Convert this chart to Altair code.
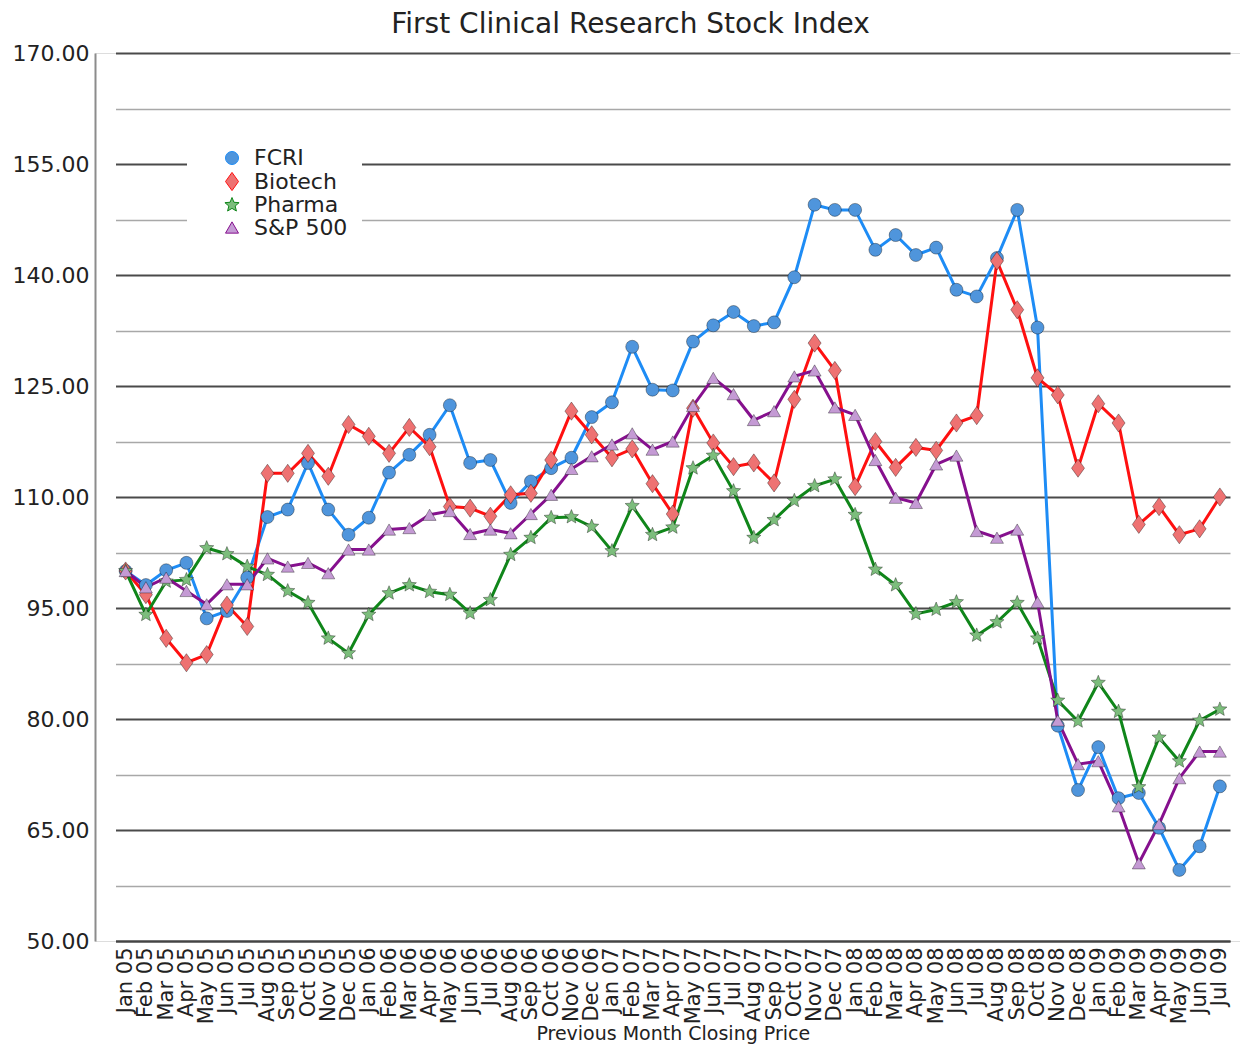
import altair as alt
import pandas as pd

months = ["Jan 05", "Feb 05", "Mar 05", "Apr 05", "May 05", "Jun 05", "Jul 05", "Aug 05", "Sep 05", "Oct 05",
          "Nov 05", "Dec 05", "Jan 06", "Feb 06", "Mar 06", "Apr 06", "May 06", "Jun 06", "Jul 06", "Aug 06",
          "Sep 06", "Oct 06", "Nov 06", "Dec 06", "Jan 07", "Feb 07", "Mar 07", "Apr 07", "May 07", "Jun 07",
          "Jul 07", "Aug 07", "Sep 07", "Oct 07", "Nov 07", "Dec 07", "Jan 08", "Feb 08", "Mar 08", "Apr 08",
          "May 08", "Jun 08", "Jul 08", "Aug 08", "Sep 08", "Oct 08", "Nov 08", "Dec 08", "Jan 09", "Feb 09",
          "Mar 09", "Apr 09", "May 09", "Jun 09", "Jul 09"]

fcri = [100.0, 98.1, 100.1, 101.1, 93.6, 94.6, 99.1, 107.3, 108.3, 114.6,
        108.3, 104.9, 107.2, 113.3, 115.7, 118.4, 122.4, 114.6, 115.0, 109.2,
        112.1, 113.9, 115.3, 120.8, 122.8, 130.3, 124.5, 124.4, 131.0, 133.2,
        135.0, 133.1, 133.6, 139.7, 149.5, 148.8, 148.8, 143.4, 145.4, 142.7,
        143.7, 138.0, 137.1, 142.3, 148.8, 132.9, 79.1, 70.4, 76.2, 69.3,
        70.0, 65.3, 59.6, 62.8, 70.9]

biotech = [100.0, 96.8, 90.9, 87.6, 88.7, 95.4, 92.5, 113.2, 113.2, 115.9,
           112.8, 119.8, 118.2, 115.9, 119.4, 116.8, 108.7, 108.5, 107.4, 110.3,
           110.5, 115.0, 121.6, 118.4, 115.3, 116.5, 111.8, 107.7, 122.0, 117.3,
           114.1, 114.6, 111.9, 123.2, 130.8, 127.1, 111.4, 117.5, 114.0, 116.7,
           116.3, 120.0, 121.0, 141.9, 135.3, 126.1, 123.8, 113.9, 122.6, 120.0,
           106.3, 108.7, 104.9, 105.7, 110.0]

pharma = [100.0, 94.1, 98.6, 98.8, 103.1, 102.3, 100.6, 99.5, 97.3, 95.7,
          90.9, 88.9, 94.1, 97.0, 98.1, 97.2, 96.8, 94.3, 96.1, 102.2,
          104.5, 107.2, 107.3, 106.0, 102.7, 108.8, 104.9, 105.9, 113.9, 115.6,
          110.8, 104.5, 106.9, 109.5, 111.5, 112.4, 107.6, 100.2, 98.1, 94.2,
          94.8, 95.8, 91.3, 93.1, 95.7, 90.9, 82.5, 79.7, 84.9, 81.0,
          70.8, 77.5, 74.3, 79.8, 81.3]

sp500 = [100.0, 97.8, 99.1, 97.3, 95.5, 98.2, 98.2, 101.7, 100.6, 101.1,
         99.7, 102.9, 102.9, 105.6, 105.8, 107.6, 108.1, 105.0, 105.6, 105.1,
         107.7, 110.3, 113.8, 115.5, 117.1, 118.6, 116.4, 117.5, 122.3, 126.1,
         123.9, 120.4, 121.6, 126.3, 127.1, 122.1, 121.1, 115.0, 109.9, 109.2,
         114.4, 115.6, 105.4, 104.5, 105.6, 95.8, 79.8, 73.9, 74.3, 68.2,
         60.5, 65.8, 72.0, 75.6, 75.6]

series_names = ["FCRI", "Biotech", "Pharma", "S&P 500"]
series_values = [fcri, biotech, pharma, sp500]

line_colors = ["#1e8cf5", "#ff1010", "#10861a", "#86108e"]
marker_fills = ["#4f95dc", "#ee7272", "#7cbd7c", "#c49ad4"]
diamond_path = "M0,-1.4L1,0L0,1.4L-1,0Z"
star_path = ("M0,-1.15L0.3,-0.42L1.09,-0.36L0.49,0.16L0.68,0.93L0,0.52"
             "L-0.68,0.93L-0.49,0.16L-1.09,-0.36L-0.3,-0.42Z")
marker_shapes = ["circle", diamond_path, star_path, "triangle-up"]

y_values = [50 + 7.5 * k for k in range(17)]

rows = []
for name, vals in zip(series_names, series_values):
    for m, v in zip(months, vals):
        rows.append({"month": m, "series": name, "value": v})
df = pd.DataFrame(rows)

FONT = "DejaVu Sans"
major = "datum.value % 15 == 5"

x_enc = alt.X(
    "month:N", sort=months,
    scale=alt.Scale(type="point", range=[20.5, 1135]),
    axis=alt.Axis(labelAngle=-90, labelFont=FONT, labelFontSize=21, labelColor="#222",
                  ticks=False, domainColor="#444", domainWidth=2, labelPadding=6,
                  labelOverlap=False, grid=False,
                  title="Previous Month Closing Price", titleFont=FONT, titleFontSize=19,
                  titleFontWeight="normal", titleColor="#222", titlePadding=1),
)
y_enc = alt.Y(
    "value:Q",
    scale=alt.Scale(domain=[50, 170], nice=False, zero=False),
    axis=alt.Axis(values=y_values,
                  labelExpr=f"{major} ? format(datum.value, '.2f') : ''",
                  labelFont=FONT, labelFontSize=22, labelColor="#222", labelPadding=6,
                  labelOverlap=False, ticks=False,
                  domainColor="#8c8c8c", domainWidth=2,
                  grid=True,
                  gridColor={"condition": {"test": major, "value": "#4a4a4a"}, "value": "#a8a8a8"},
                  gridWidth={"condition": {"test": major, "value": 2}, "value": 1.3},
                  title=None),
)

# one shared legend definition for every channel keyed on "series",
# so Vega-Lite merges them into a single (enabled) legend
leg = alt.Legend(title=None, orient="none", legendX=92, legendY=80, fillColor="white",
                 padding=14, symbolOffset=20, labelOffset=11, labelFont=FONT,
                 labelFontSize=22, labelColor="#222", symbolSize=169, rowPadding=0.5,
                 symbolStrokeWidth=1)

base = alt.Chart(df).encode(x=x_enc, y=y_enc)

lines = base.mark_line(strokeWidth=3).encode(
    stroke=alt.Stroke("series:N", scale=alt.Scale(domain=series_names, range=line_colors), legend=leg)
)

points = base.mark_point(filled=True, size=169, strokeWidth=1, opacity=1,
                         stroke="black", strokeOpacity=0.35).encode(
    shape=alt.Shape("series:N", scale=alt.Scale(domain=series_names, range=marker_shapes), legend=leg),
    color=alt.Color("series:N", scale=alt.Scale(domain=series_names, range=marker_fills), legend=leg),
)

chart = alt.layer(lines, points).properties(
    width=1145, height=888,
    title=alt.TitleParams("First Clinical Research Stock Index", font=FONT, fontSize=28,
                          fontWeight="normal", color="#222", anchor="middle", dx=-37, offset=3),
    autosize=alt.AutoSizeParams(type="none"),
    padding={"left": 87, "top": 45, "right": 0, "bottom": 107},
).configure_view(stroke="transparent").configure(background="white")

chart.save("out.html", embed_options={"renderer": "svg", "actions": False})
